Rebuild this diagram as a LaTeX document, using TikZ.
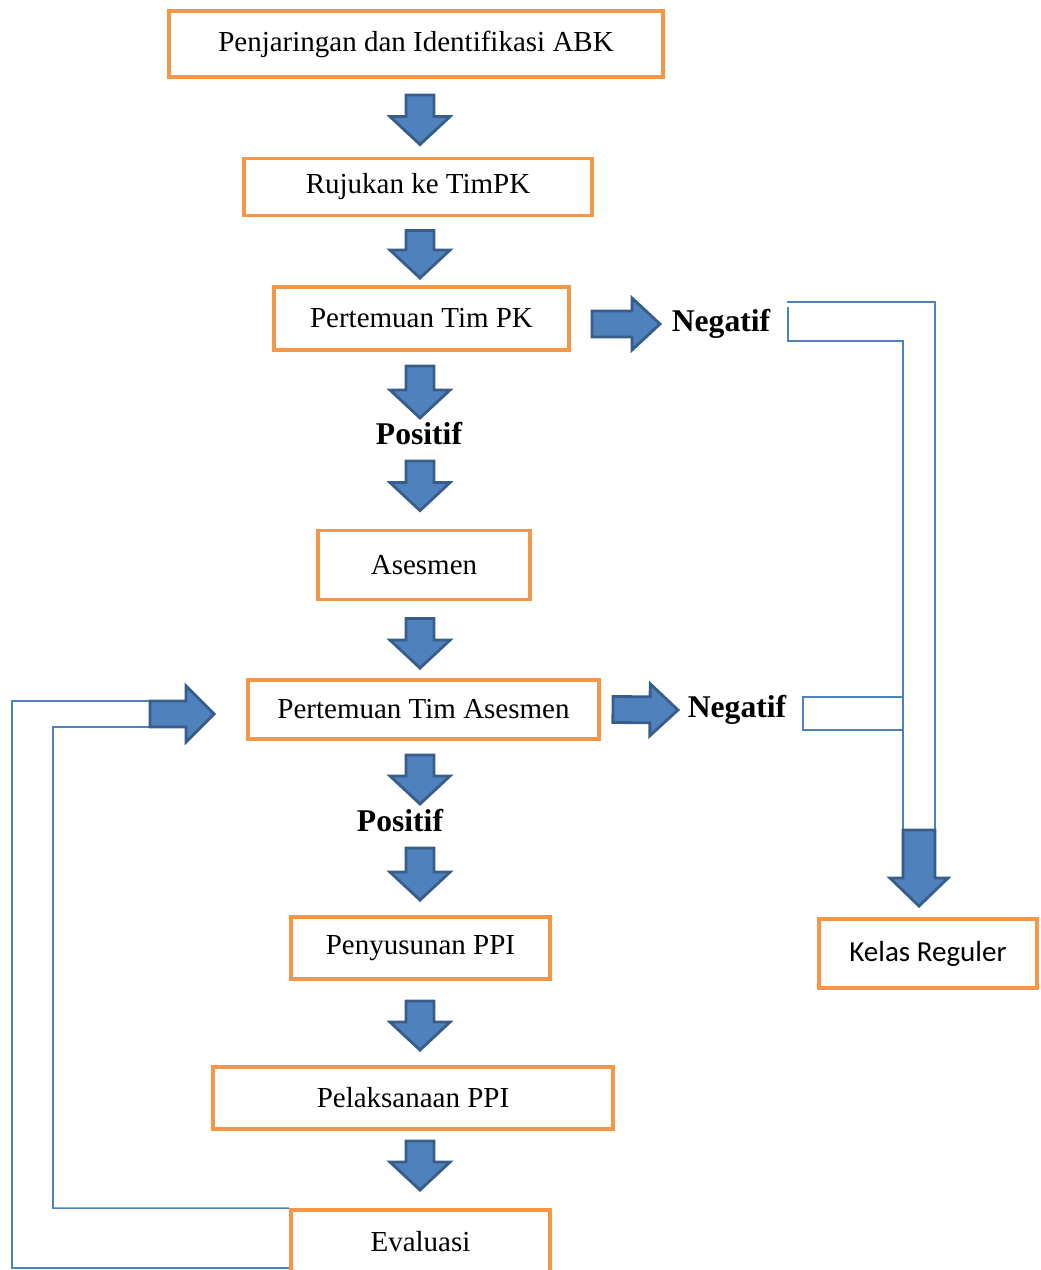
\documentclass[tikz,border=0pt]{standalone}
\usepackage{fontspec}
\setmainfont{Liberation Serif}
\newfontfamily\calibrifont{Carlito}
\usetikzlibrary{calc}

\definecolor{boxorange}{HTML}{F79646}
\definecolor{arrowblue}{HTML}{4F81BD}
\definecolor{arrowedge}{HTML}{385D8A}

\tikzset{
  stepbox/.style={draw=boxorange, line width=2.2pt, fill=white, inner sep=0pt,
    font=\fontsize{16.5}{20}\selectfont},
  result/.style={font=\fontsize{18}{22}\selectfont\bfseries, inner sep=0pt},
  blockarrow/.style={fill=arrowblue, draw=arrowedge, line width=1.6pt, line join=miter},
  link/.style={draw=arrowblue, line width=0.9pt}
}

% #1 shaft half width, #2 head half width, #3 start, #4 tip
\newcommand{\blockarrow}[4]{%
  \path (#3) coordinate (ba-s) (#4) coordinate (ba-t);
  \path ($(ba-t)!0.56cm!(ba-s)$) coordinate (ba-h);
  \filldraw[blockarrow] ($(ba-s)!#1cm!90:(ba-t)$) -- ($(ba-h)!#1cm!-90:(ba-s)$)
    -- ($(ba-h)!#2cm!-90:(ba-s)$) -- (ba-t) -- ($(ba-h)!#2cm!90:(ba-s)$)
    -- ($(ba-h)!#1cm!90:(ba-s)$) -- ($(ba-s)!#1cm!-90:(ba-t)$) -- cycle;
}

\begin{document}
\begin{tikzpicture}
\useasboundingbox (0,0) rectangle (20.8,-25.4);

\node[stepbox, minimum width=9.88cm, minimum height=1.32cm] (b1) at (8.32,-0.88) {Penjaringan dan Identifikasi ABK};
\node[stepbox, minimum width=6.96cm, minimum height=1.14cm] (b2) at (8.36,-3.74) {Rujukan ke TimPK};
\node[stepbox, minimum width=5.90cm, minimum height=1.26cm] (b3) at (8.43,-6.37) {Pertemuan Tim PK};
\node[result] (pos1) at (8.38,-8.68) {Positif};
\node[stepbox, minimum width=4.24cm, minimum height=1.38cm] (b4) at (8.48,-11.30) {Asesmen};
\node[stepbox, minimum width=7.02cm, minimum height=1.18cm] (b5) at (8.47,-14.19) {Pertemuan Tim Asesmen};
\node[result] (pos2) at (8.00,-16.42) {Positif};
\node[stepbox, minimum width=5.18cm, minimum height=1.24cm] (b6) at (8.41,-18.96) {Penyusunan PPI};
\node[stepbox, minimum width=8.00cm, minimum height=1.24cm] (b7) at (8.26,-21.96) {Pelaksanaan PPI};
\node[stepbox, minimum width=5.18cm, minimum height=1.28cm] (eval) at (8.41,-24.84) {Evaluasi};
\node[result] (neg1) at (14.42,-6.48) {Negatif};
\node[result] (neg2) at (14.74,-14.20) {Negatif};
\node[stepbox, minimum width=4.36cm, minimum height=1.38cm, font=\fontsize{16.5}{20}\calibrifont] (kelas) at (18.56,-19.07) {Kelas Reguler};

\coordinate (mid) at (8.4,0);
\coordinate (regin) at (18.38,-16.6);
\coordinate (loopin) at (3.0,-14.28);
\coordinate (loopbot) at (0.24,-25.36);
\coordinate (loopturn) at (1.06,-14.54);

\draw[link] (15.74,-6.04) -- (18.7,-6.04) -- ($(regin)+(0.32,0)$);
\draw[link] (15.76,-6.14) -- (15.76,-6.82);
\draw[link] (15.74,-6.82) -- (18.06,-6.82) -- ($(regin)+(-0.32,0)$);
\draw[link] (18.06,-13.94) -- (16.06,-13.94) -- (16.06,-14.6) -- (18.06,-14.6);
\draw[link] ($(loopin)+(0,0.26)$) -- (0.24,-14.02) -- (loopbot) -- (loopbot -| eval.west);
\draw[link] ($(loopin)+(0,-0.26)$) -- (loopturn) -- (loopturn |- eval.north west) -- (eval.north west);

\blockarrow{0.28}{0.6}{$(mid |- b1.south)+(0,-0.32)$}{$(mid |- b2.north)+(0,0.24)$}
\blockarrow{0.28}{0.6}{$(mid |- b2.south)+(0,-0.26)$}{$(mid |- b3.north)+(0,0.14)$}
\blockarrow{0.28}{0.6}{$(mid |- b3.south)+(0,-0.28)$}{$(mid |- pos1)+(0,0.32)$}
\blockarrow{0.28}{0.6}{$(mid |- pos1)+(0,-0.54)$}{$(mid |- b4.north)+(0,0.36)$}
\blockarrow{0.28}{0.6}{$(mid |- b4.south)+(0,-0.34)$}{$(mid |- b5.north)+(0,0.2)$}
\blockarrow{0.28}{0.6}{$(mid |- b5.south)+(0,-0.28)$}{$(mid |- pos2)+(0,0.34)$}
\blockarrow{0.28}{0.6}{$(mid |- pos2)+(0,-0.54)$}{$(mid |- b6.north)+(0,0.3)$}
\blockarrow{0.28}{0.6}{$(mid |- b6.south)+(0,-0.4)$}{$(mid |- b7.north)+(0,0.3)$}
\blockarrow{0.28}{0.6}{$(mid |- b7.south)+(0,-0.2)$}{$(mid |- eval.north)+(0,0.36)$}
\blockarrow{0.26}{0.52}{$(b3.east)+(0.42,-0.11)$}{$(neg1)+(-1.22,0)$}
\blockarrow{0.26}{0.52}{$(b5.east)+(0.24,0)$}{$(neg2)+(-1.18,0)$}
\blockarrow{0.26}{0.56}{loopin}{$(loopin -| b5.west)+(-0.64,0)$}
\blockarrow{0.32}{0.58}{regin}{$(regin |- kelas.north)+(0,0.22)$}
\end{tikzpicture}
\end{document}
